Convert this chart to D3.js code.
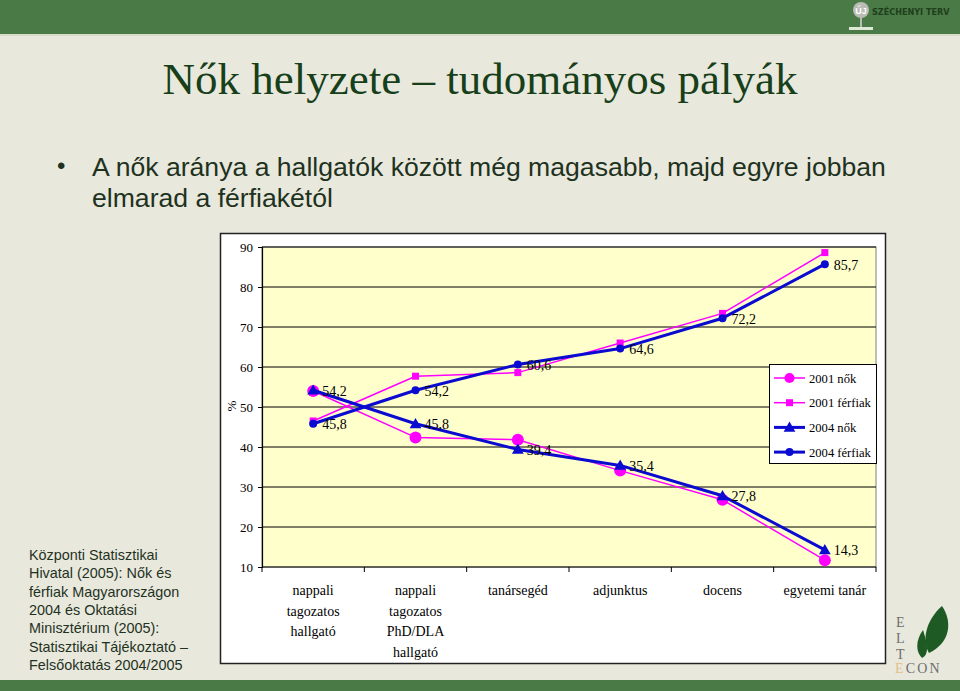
<!DOCTYPE html>
<html>
<head>
<meta charset="utf-8">
<script src="https://cdn.jsdelivr.net/npm/d3@7"></script>
<style>
  html, body { margin: 0; padding: 0; background: #E9E8DD; }
  svg { display: block; }
</style>
</head>
<body>
<svg id="c" width="960" height="691"></svg>
<script>
// ---- data ----
const categories = [
  ["nappali", "tagozatos", "hallgató"],
  ["nappali", "tagozatos", "PhD/DLA", "hallgató"],
  ["tanársegéd"],
  ["adjunktus"],
  ["docens"],
  ["egyetemi tanár"]
];
const categoryKeys = ["nappali tagozatos hallgató", "nappali tagozatos PhD/DLA hallgató", "tanársegéd", "adjunktus", "docens", "egyetemi tanár"];
const nok2001 = [54.0, 42.4, 41.8, 34.1, 26.8, 11.7];
const ferfiak2001 = [46.5, 57.7, 58.6, 66.0, 73.4, 88.6];
const nok2004 = [54.2, 45.8, 39.4, 35.4, 27.8, 14.3];
const ferfiak2004 = [45.8, 54.2, 60.6, 64.6, 72.2, 85.7];
const yTicks = [10, 20, 30, 40, 50, 60, 70, 80, 90];
const seriesNames = ["2001 nők", "2001 férfiak", "2004 nők", "2004 férfiak"];
const sourceLines = [
  "Központi Statisztikai",
  "Hivatal (2005): Nők és",
  "férfiak Magyarországon",
  "2004 és Oktatási",
  "Minisztérium (2005):",
  "Statisztikai Tájékoztató –",
  "Felsőoktatás 2004/2005"
];
const titleText = "Nők helyzete – tudományos pályák";
const bulletLines = ["A nők aránya a hallgatók között még magasabb, majd egyre jobban", "elmarad a férfiakétól"];

const svg = d3.select("#c");
const SERIF = "'Liberation Serif','Times New Roman',serif";
const SANS = "'Liberation Sans',Arial,sans-serif";
const MAG = "#FF00FF", BLUE = "#0A0AD0";

// ---- slide background ----
svg.append("rect").attr("width", 960).attr("height", 691).attr("fill", "#E9E8DD");
svg.append("rect").attr("x", 0).attr("y", 0).attr("width", 960).attr("height", 34).attr("fill", "#4A7A45");
svg.append("rect").attr("x", 0).attr("y", 34).attr("width", 960).attr("height", 2).attr("fill", "#D6DCC8");
svg.append("rect").attr("x", 0).attr("y", 680).attr("width", 960).attr("height", 11).attr("fill", "#4A7A45");

// Széchenyi logo
const lg = svg.append("g");
lg.append("line").attr("x1", 861).attr("x2", 861).attr("y1", 14).attr("y2", 28).attr("stroke", "#B9BDB5").attr("stroke-width", 2);
lg.append("circle").attr("cx", 861).attr("cy", 10).attr("r", 8).attr("fill", "#B9BDB5");
lg.append("text").attr("x", 861).attr("y", 13.5).attr("text-anchor", "middle").attr("font-family", SANS).attr("font-size", 9).attr("font-weight", "bold").attr("fill", "#ffffff").text("ÚJ");
lg.append("rect").attr("x", 849).attr("y", 27).attr("width", 24).attr("height", 3).attr("fill", "#DDE8D6");
lg.append("text").attr("x", 872).attr("y", 15).attr("font-family", "'DejaVu Sans Condensed','DejaVu Sans',sans-serif").attr("font-size", 9).attr("font-weight", "bold").attr("fill", "#1E3E1C").text("SZÉCHENYI TERV");

// Title
svg.append("text").attr("x", 480).attr("y", 94).attr("text-anchor", "middle")
  .attr("font-family", SERIF).attr("font-size", 45).attr("fill", "#173F19").text(titleText);

// Bullet
svg.append("text").attr("x", 57).attr("y", 174).attr("font-family", SANS).attr("font-size", 24).attr("fill", "#1E321E").text("•");
bulletLines.forEach((t, i) => {
  svg.append("text").attr("x", 92).attr("y", 176 + i * 30.5).attr("font-family", SANS).attr("font-size", 26.6).attr("fill", "#1E321E").text(t);
});

// Source text
sourceLines.forEach((t, i) => {
  svg.append("text").attr("x", 29).attr("y", 560 + i * 18.3).attr("font-family", SANS).attr("font-size", 14.4).attr("fill", "#1E321E").text(t);
});

// ELTE ECON logo
const el = svg.append("g").attr("font-family", SERIF).attr("font-size", 14).attr("fill", "#6E6E6E");
["E", "L", "T"].forEach((t, i) => el.append("text").attr("x", 896).attr("y", 627 + i * 16).text(t));
el.append("text").attr("x", 895).attr("y", 673).attr("letter-spacing", 2.2)
  .html('<tspan fill="#E2C08C">E</tspan>CON');
svg.append("path").attr("d", "M942,606 C953,622 950,643 929,653 C922,641 925,621 942,606 Z").attr("fill", "#1E5A24");
svg.append("path").attr("d", "M923,630 C915,641 916,652 922,658 C929,655 928,645 923,630 Z").attr("fill", "#1E5A24");

// ---- chart box ----
svg.append("rect").attr("x", 220.5).attr("y", 233.5).attr("width", 665).attr("height", 430)
  .attr("fill", "#ffffff").attr("stroke", "#222").attr("stroke-width", 1.5);

const x = d3.scaleBand().domain(categoryKeys).range([262, 876]).padding(0);
const y = d3.scaleLinear().domain([10, 90]).range([567, 247]);
const cx = (i) => x(categoryKeys[i]) + x.bandwidth() / 2;

// plot area
svg.append("rect").attr("x", 262).attr("y", y(90)).attr("width", 876 - 262).attr("height", y(10) - y(90))
  .attr("fill", "#FFFFCC").attr("stroke", "#808080").attr("stroke-width", 1);

// gridlines
svg.append("g").selectAll("line").data(yTicks.filter(v => v > 10)).join("line")
  .attr("x1", 262).attr("x2", 876).attr("y1", d => y(d)).attr("y2", d => y(d))
  .attr("stroke", "#000").attr("stroke-width", 1.2);

// y axis
const yAxis = svg.append("g").attr("transform", "translate(262,0)")
  .call(d3.axisLeft(y).tickValues(yTicks).tickSize(4).tickPadding(5).tickFormat(d3.format("d")));
yAxis.select(".domain").attr("stroke", "#000").attr("stroke-width", 1.2);
yAxis.selectAll(".tick line").attr("stroke", "#000");
yAxis.selectAll("text").attr("font-family", SERIF).attr("font-size", 13).attr("fill", "#000");

svg.append("text").attr("transform", "translate(236,406) rotate(-90)").attr("text-anchor", "middle")
  .attr("font-family", SERIF).attr("font-size", 13).attr("fill", "#000").text("%");

// x axis
svg.append("line").attr("x1", 262).attr("x2", 876).attr("y1", y(10)).attr("y2", y(10)).attr("stroke", "#000").attr("stroke-width", 1.2);
const boundaries = categoryKeys.map(k => x(k)).concat([x(categoryKeys[categoryKeys.length - 1]) + x.bandwidth()]);
svg.append("g").selectAll("line").data(boundaries).join("line")
  .attr("x1", d => d).attr("x2", d => d).attr("y1", y(10)).attr("y2", y(10) + 5).attr("stroke", "#000");
categories.forEach((lines, i) => {
  const t = svg.append("text").attr("text-anchor", "middle").attr("font-family", SERIF).attr("font-size", 14).attr("fill", "#000");
  lines.forEach((ln, j) => t.append("tspan").attr("x", cx(i)).attr("y", 595 + j * 20.5).text(ln));
});

// ---- series ----
const line = d3.line().x((d, i) => cx(i)).y(d => y(d));
function drawLine(vals, color, w) {
  svg.append("path").datum(vals).attr("d", line).attr("fill", "none").attr("stroke", color).attr("stroke-width", w).attr("stroke-linejoin", "round");
}
function marker(g, type, px, py, scale) {
  const s = scale || 1;
  if (type === "bigcircle") g.append("circle").attr("cx", px).attr("cy", py).attr("r", 6 * s).attr("fill", MAG);
  if (type === "square") g.append("rect").attr("x", px - 3.5 * s).attr("y", py - 3.5 * s).attr("width", 7 * s).attr("height", 7 * s).attr("fill", MAG);
  if (type === "triangle") g.append("path").attr("d", d3.symbol().type(d3.symbolTriangle).size(60 * s * s)()).attr("transform", `translate(${px},${py + 1})`).attr("fill", BLUE);
  if (type === "smallcircle") g.append("circle").attr("cx", px).attr("cy", py).attr("r", 4 * s).attr("fill", BLUE);
}
const series = [
  { vals: nok2001, color: MAG, w: 1.5, m: "bigcircle" },
  { vals: ferfiak2001, color: MAG, w: 1.5, m: "square" },
  { vals: nok2004, color: BLUE, w: 3, m: "triangle" },
  { vals: ferfiak2004, color: BLUE, w: 3, m: "smallcircle" }
];
series.forEach(s => {
  drawLine(s.vals, s.color, s.w);
  const g = svg.append("g");
  s.vals.forEach((v, i) => marker(g, s.m, cx(i), y(v)));
});

// data labels (2004 series)
const fmt = v => d3.format(".1f")(v).replace(".", ",");
[nok2004, ferfiak2004].forEach(vals => {
  vals.forEach((v, i) => {
    svg.append("text").attr("x", cx(i) + 9).attr("y", y(v) + 5.5)
      .attr("font-family", SERIF).attr("font-size", 14).attr("fill", "#000").text(fmt(v));
  });
});

// ---- legend ----
const leg = svg.append("g");
leg.append("rect").attr("x", 769.5).attr("y", 364.5).attr("width", 107).attr("height", 99)
  .attr("fill", "#fff").attr("stroke", "#000").attr("stroke-width", 1);
series.forEach((s, i) => {
  const ly = 378 + i * 24.7;
  leg.append("line").attr("x1", 774).attr("x2", 805).attr("y1", ly).attr("y2", ly).attr("stroke", s.color).attr("stroke-width", s.w);
  marker(leg, s.m, 789.5, ly, s.m === "bigcircle" ? 0.85 : 1);
  leg.append("text").attr("x", 809).attr("y", ly + 4.5).attr("font-family", SERIF).attr("font-size", 12.6).attr("fill", "#000").text(seriesNames[i]);
});
</script>
</body>
</html>
